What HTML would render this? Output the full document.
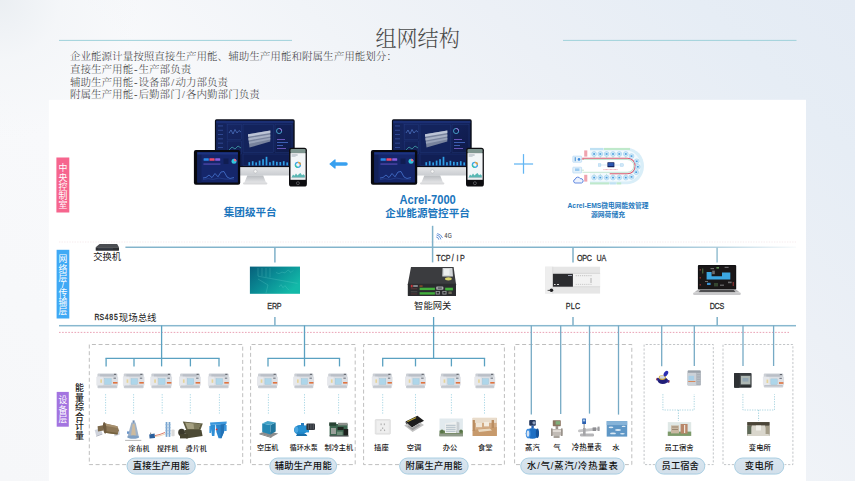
<!DOCTYPE html>
<html lang="zh"><head><meta charset="utf-8"><title>组网结构</title>
<style>
html,body{margin:0;padding:0;}
body{width:855px;height:481px;overflow:hidden;background:radial-gradient(circle at 0 0,rgba(234,238,242,0.95) 0,rgba(240,243,246,0.5) 60px,rgba(246,248,250,0) 140px),linear-gradient(45deg,#f6f7f9 0%,#f8f9fb 30%,#f8f9fb 42%,#f1f4f8 58%,#ecf0f6 72%,#e6edf5 88%,#e4ebf4 100%);}
svg{display:block;position:absolute;left:0;top:0;}
</style></head><body>
<svg width="855" height="481" viewBox="0 0 855 481">
<line x1="59" y1="40.4" x2="292" y2="40.4" stroke="#9fd2da" stroke-width="1"/>
<line x1="563" y1="40.4" x2="796.5" y2="40.4" stroke="#9fd2da" stroke-width="1"/>
<text x="417.6" y="46.0" font-size="21.1" fill="#4a4a4a" font-weight="300" font-family='"Liberation Serif","Noto Serif CJK SC",serif' text-anchor="middle" >组网结构</text>
<text x="69.90 80.45 91.00 101.55 112.10 122.65 133.20 143.75 154.30 164.85 175.40 185.95 196.50 207.05 217.60 228.15 238.70 249.25 259.80 270.35 280.90 291.45 302.00 312.55 323.10 333.65 344.20 354.75 365.30 375.85 386.40" y="60.1" font-size="10.55" fill="#3e3e3e" font-weight="300" font-family='"Liberation Serif","Noto Serif CJK SC",serif'>企业能源计量按照直接生产用能、辅助生产用能和附属生产用能划分：</text>
<text x="69.90 80.45 91.00 101.55 112.10 122.65 134.10 138.47 149.03 159.58 170.13 180.68" y="72.9" font-size="10.55" fill="#3e3e3e" font-weight="300" font-family='"Liberation Serif","Noto Serif CJK SC",serif'>直接生产用能-生产部负责</text>
<text x="69.90 80.45 91.00 101.55 112.10 122.65 134.10 138.47 149.03 159.58 171.33 175.40 185.95 196.50 207.05 217.60" y="85.6" font-size="10.55" fill="#3e3e3e" font-weight="300" font-family='"Liberation Serif","Noto Serif CJK SC",serif'>辅助生产用能-设备部/动力部负责</text>
<text x="69.90 80.45 91.00 101.55 112.10 122.65 134.10 138.47 149.03 159.58 170.13 181.88 185.95 196.50 207.05 217.60 228.15 238.70 249.25" y="98.1" font-size="10.55" fill="#3e3e3e" font-weight="300" font-family='"Liberation Serif","Noto Serif CJK SC",serif'>附属生产用能-后勤部门/各内勤部门负责</text>
<rect x="48.8" y="99.8" width="757.2" height="382" fill="#fff"/>
<rect x="56.4" y="157.5" width="12.9" height="55" fill="#f6658e"/>
<text x="62.9 62.9 62.9 62.9 62.9" y="171.27 180.67 189.67 199.07 208.47" font-size="8.9" fill="#fff" font-weight="400" font-family='"Liberation Sans","Noto Sans CJK SC",sans-serif' text-anchor="middle">中央控制室</text>
<rect x="56.6" y="249.8" width="12.7" height="68.7" fill="#3fa9f5"/>
<text x="62.9 62.9 62.9 62.9 62.9 62.9 62.9" y="261.64 271.64 281.04 288.30 295.74 304.64 314.04" font-size="8.8" fill="#fff" font-weight="400" font-family='"Liberation Sans","Noto Sans CJK SC",sans-serif' text-anchor="middle">网络层/传输层</text>
<rect x="56.7" y="391.9" width="12.1" height="34.8" fill="#a374e0"/>
<text x="62.8 62.8 62.8" y="403.14 412.54 422.04" font-size="8.8" fill="#fff" font-weight="400" font-family='"Liberation Sans","Noto Sans CJK SC",sans-serif' text-anchor="middle">设备层</text>
<text x="79.5 79.5 79.5 79.5 79.5 79.5" y="390.91 400.50 410.31 419.71 429.31 438.91" font-size="9.0" fill="#1a1a1a" font-weight="500" font-family='"Liberation Sans","Noto Sans CJK SC",sans-serif' text-anchor="middle">能量综合计量</text>
<line x1="59" y1="242" x2="796" y2="242" stroke="#f4e6e9" stroke-width="0.8" stroke-dasharray="1.3 1.3"/>
<defs><linearGradient id="fade" x1="0" x2="1" y1="0" y2="0"><stop offset="0" stop-color="#7db0c9"/><stop offset="0.7" stop-color="#7db0c9"/><stop offset="0.88" stop-color="#7db0c9" stop-opacity="0.6"/><stop offset="1" stop-color="#7db0c9" stop-opacity="0.05"/></linearGradient></defs>
<rect x="125.4" y="246.55" width="670.6" height="1.4" fill="url(#fade)"/>
<rect x="59" y="324.95" width="737" height="1.5" fill="#88b8cf"/>
<line x1="59" y1="332.4" x2="789" y2="332.4" stroke="#e58aa2" stroke-width="0.8" stroke-dasharray="1.6 1.5"/>
<line x1="274.9" y1="247.4" x2="274.9" y2="262.4" stroke="#7fb1c9" stroke-width="1.5"/>
<line x1="274.9" y1="317" x2="274.9" y2="325.5" stroke="#7fb1c9" stroke-width="1.5"/>
<line x1="432.6" y1="225.8" x2="432.6" y2="262.4" stroke="#7fb1c9" stroke-width="1.5"/>
<line x1="573.0" y1="247.4" x2="573.0" y2="262.6" stroke="#7fb1c9" stroke-width="1.5"/>
<line x1="573.0" y1="317" x2="573.0" y2="325.5" stroke="#7fb1c9" stroke-width="1.5"/>
<line x1="717.1" y1="247.4" x2="717.1" y2="262.6" stroke="#9cc3d4" stroke-width="1.6"/>
<line x1="717.2" y1="317" x2="717.2" y2="325.5" stroke="#7fb1c9" stroke-width="1.5"/>
<text x="107.2" y="260.0" font-size="9.3" fill="#1c1c1c" font-weight="400" font-family='"Liberation Sans","Noto Sans CJK SC",sans-serif' text-anchor="middle" >交换机</text>
<text transform="scale(0.76,1)" x="127.72 133.96 140.20 146.43 152.67" y="320.5" font-size="9.0" fill="#1c1c1c" stroke="#1c1c1c" stroke-width="0.28" font-weight="400" font-family='"Liberation Sans","Noto Sans CJK SC",sans-serif' text-anchor="middle" xml:space="preserve">RS485</text>
<text x="118.8" y="321.0" font-size="9.45" fill="#1c1c1c" font-weight="400" font-family='"Liberation Sans","Noto Sans CJK SC",sans-serif' text-anchor="start" >现场总线</text>
<text transform="scale(0.74,1)" x="364.45 370.91 377.36" y="309.0" font-size="9.7" fill="#2e2e2e" stroke="#2e2e2e" stroke-width="0.28" font-weight="400" font-family='"Liberation Sans","Noto Sans CJK SC",sans-serif' text-anchor="middle" xml:space="preserve">ERP</text>
<text x="432.7" y="309.4" font-size="9.3" fill="#1c1c1c" font-weight="400" font-family='"Liberation Sans","Noto Sans CJK SC",sans-serif' text-anchor="middle" >智能网关</text>
<text transform="scale(0.74,1)" x="767.69 774.15 780.61" y="309.0" font-size="9.7" fill="#2e2e2e" stroke="#2e2e2e" stroke-width="0.28" font-weight="400" font-family='"Liberation Sans","Noto Sans CJK SC",sans-serif' text-anchor="middle" xml:space="preserve">PLC</text>
<text transform="scale(0.74,1)" x="962.69 969.15 975.61" y="309.0" font-size="9.7" fill="#2e2e2e" stroke="#2e2e2e" stroke-width="0.28" font-weight="400" font-family='"Liberation Sans","Noto Sans CJK SC",sans-serif' text-anchor="middle" xml:space="preserve">DCS</text>
<text transform="scale(0.74,1)" x="592.55 599.01 605.47 611.93 618.39 624.85" y="260.6" font-size="9.7" fill="#2e2e2e" stroke="#2e2e2e" stroke-width="0.28" font-weight="400" font-family='"Liberation Sans","Noto Sans CJK SC",sans-serif' text-anchor="middle" xml:space="preserve">TCP/IP</text>
<text transform="scale(0.74,1)" x="783.64 790.09 796.55 803.01 809.47 815.93" y="260.6" font-size="9.7" fill="#2e2e2e" stroke="#2e2e2e" stroke-width="0.28" font-weight="400" font-family='"Liberation Sans","Noto Sans CJK SC",sans-serif' text-anchor="middle" xml:space="preserve">OPC UA</text>
<text transform="scale(0.78,1)" x="571.73 576.73" y="238.5" font-size="6.6" fill="#4a4a4a" stroke="#4a4a4a" stroke-width="0.15" font-weight="400" font-family='"Liberation Sans","Noto Sans CJK SC",sans-serif' text-anchor="middle" xml:space="preserve">4G</text>
<text x="250.2" y="215.6" font-size="10.6" fill="#1b76bd" font-weight="700" font-family='"Liberation Sans","Noto Sans CJK SC",sans-serif' text-anchor="middle" >集团级平台</text>
<text x="427.6" y="204.4" font-size="11.9" fill="#1b76bd" font-weight="700" font-family='"Liberation Sans","Noto Sans CJK SC",sans-serif' text-anchor="middle" textLength="56.4" lengthAdjust="spacingAndGlyphs">Acrel-7000</text>
<text x="427.5" y="217.2" font-size="10.6" fill="#1b76bd" font-weight="700" font-family='"Liberation Sans","Noto Sans CJK SC",sans-serif' text-anchor="middle" >企业能源管控平台</text>
<text x="608" y="208.4" font-size="6.7" fill="#2478bd" font-weight="700" font-family='"Liberation Sans","Noto Sans CJK SC",sans-serif' text-anchor="middle" textLength="81" lengthAdjust="spacingAndGlyphs">Acrel-EMS微电网能效管理</text>
<text x="608" y="216.5" font-size="6.8" fill="#2478bd" font-weight="700" font-family='"Liberation Sans","Noto Sans CJK SC",sans-serif' text-anchor="middle" >源网荷储充</text>
<defs>
<linearGradient id="scr" x1="0" y1="0" x2="1" y2="1"><stop offset="0" stop-color="#172867"/><stop offset="1" stop-color="#0d1845"/></linearGradient>
<linearGradient id="chin" x1="0" y1="0" x2="0" y2="1"><stop offset="0" stop-color="#e4e5e7"/><stop offset="1" stop-color="#c9ccd0"/></linearGradient>
<linearGradient id="stand" x1="0" y1="0" x2="0" y2="1"><stop offset="0" stop-color="#b9bcc0"/><stop offset="1" stop-color="#e6e7e9"/></linearGradient>
<linearGradient id="erp" x1="0" y1="0" x2="1" y2="0.6"><stop offset="0" stop-color="#07607b"/><stop offset="0.5" stop-color="#0a8c95"/><stop offset="1" stop-color="#13b9a8"/></linearGradient>
<linearGradient id="mbody" x1="0" y1="0" x2="0" y2="1"><stop offset="0" stop-color="#d3d6db"/><stop offset="0.5" stop-color="#e4e6ea"/><stop offset="1" stop-color="#cfd2d7"/></linearGradient>
<linearGradient id="pill" x1="0" y1="0" x2="0" y2="1"><stop offset="0" stop-color="#d9e6f0"/><stop offset="1" stop-color="#d2dfea"/></linearGradient>
</defs>
<g transform="translate(0,0)">
<rect x="214.9" y="119.3" width="79.8" height="48.2" rx="1.6" fill="#0a0d18"/>
<rect x="216.3" y="120.8" width="77" height="45.2" fill="url(#scr)"/>
<rect x="216.3" y="120.8" width="9.5" height="45.2" fill="#14245c"/>
<rect x="216.3" y="120.8" width="77" height="2.4" fill="#1b2f74"/>
<rect x="218" y="125.5" width="5" height="0.9" fill="#3b55a6" opacity="0.8"/>
<rect x="218" y="129.8" width="5" height="0.9" fill="#3b55a6" opacity="0.8"/>
<rect x="218" y="134.1" width="5" height="0.9" fill="#3b55a6" opacity="0.8"/>
<rect x="218" y="138.4" width="5" height="0.9" fill="#3b55a6" opacity="0.8"/>
<rect x="218" y="142.7" width="5" height="0.9" fill="#3b55a6" opacity="0.8"/>
<rect x="218" y="147.0" width="5" height="0.9" fill="#3b55a6" opacity="0.8"/>
<rect x="218" y="151.3" width="5" height="0.9" fill="#3b55a6" opacity="0.8"/>
<rect x="218" y="155.6" width="5" height="0.9" fill="#3b55a6" opacity="0.8"/>
<rect x="218" y="159.9" width="5" height="0.9" fill="#3b55a6" opacity="0.8"/>
<rect x="227.5" y="124.6" width="14" height="15" fill="none" stroke="#243c80" stroke-width="0.4"/>
<rect x="227.5" y="141" width="14" height="13" fill="none" stroke="#243c80" stroke-width="0.4"/>
<rect x="243" y="124.6" width="30.5" height="28" fill="#13235c" stroke="#243c80" stroke-width="0.4"/>
<rect x="275" y="124.6" width="17" height="28" fill="none" stroke="#243c80" stroke-width="0.4"/>
<rect x="243" y="154" width="49" height="11.6" fill="#111f55" stroke="#243c80" stroke-width="0.4"/>
<polyline points="229,133 231,130 233,134 235,129.5 237,133 239,130.5 241,132" fill="none" stroke="#5b86d8" stroke-width="0.6"/>
<polyline points="229,150 232,147 235,149 238,146 241,148" fill="none" stroke="#4fc6c0" stroke-width="0.6"/>
<polygon points="248,134.2 270.3,130.6 270.3,141.5 249.5,147.5" fill="#78839d"/>
<polygon points="248,134.2 270.3,130.6 270.3,133 248,136.8" fill="#bcc4d6"/>
<polygon points="248.3,138.2 270.3,134.4 270.3,136.4 248.6,140.4" fill="#a9b2c6"/>
<polygon points="248.8,141.8 270.3,137.8 270.3,139.6 249,143.8" fill="#99a3b9"/>
<circle cx="279.1" cy="131" r="2.6" fill="none" stroke="#4fb8dc" stroke-width="0.8"/>
<path d="M279.1 128.4 A2.6 2.6 0 0 1 281.7 131" fill="none" stroke="#a565d8" stroke-width="0.8"/>
<rect x="277" y="139" width="8" height="0.8" fill="#8a6be0" opacity="0.9"/>
<rect x="277" y="142" width="11" height="0.8" fill="#4f78d8" opacity="0.9"/>
<rect x="277" y="145" width="6" height="0.8" fill="#4f78d8" opacity="0.9"/>
<rect x="277" y="148" width="9" height="0.8" fill="#8a6be0" opacity="0.9"/>
<rect x="248.4" y="162.20000000000002" width="1.7" height="3.2" fill="#2f9fe6"/>
<rect x="251.85" y="161.20000000000002" width="1.7" height="4.2" fill="#2f9fe6"/>
<rect x="255.3" y="162.4" width="1.7" height="3.0" fill="#2f9fe6"/>
<rect x="258.75" y="160.6" width="1.7" height="4.8" fill="#2f9fe6"/>
<rect x="262.2" y="159.20000000000002" width="1.7" height="6.2" fill="#2f9fe6"/>
<rect x="265.65" y="156.8" width="1.7" height="8.6" fill="#2f9fe6"/>
<rect x="269.1" y="162.20000000000002" width="1.7" height="3.2" fill="#2f9fe6"/>
<rect x="272.55" y="160.8" width="1.7" height="4.6" fill="#2f9fe6"/>
<rect x="276.0" y="161.8" width="1.7" height="3.6" fill="#2f9fe6"/>
<rect x="279.45" y="162.0" width="1.7" height="3.4" fill="#2f9fe6"/>
<rect x="282.9" y="161.20000000000002" width="1.7" height="4.2" fill="#2f9fe6"/>
<rect x="286.35" y="162.4" width="1.7" height="3.0" fill="#2f9fe6"/>
<path d="M214.9 167.2 h79.8 v6.8 a1.6 1.6 0 0 1 -1.6 1.6 h-76.6 a1.6 1.6 0 0 1 -1.6 -1.6 z" fill="url(#chin)"/>
<circle cx="255.4" cy="171.4" r="1.7" fill="#f6f6f6" stroke="#aeb1b5" stroke-width="0.5"/>
<polygon points="247.3,175.6 263.2,175.6 266.2,183 244.2,183" fill="url(#stand)"/>
<rect x="243" y="182.6" width="24.4" height="1.8" rx="0.8" fill="#d9dadc"/>
<rect x="193.9" y="150.1" width="46.3" height="34.6" rx="2" fill="#08090f"/>
<rect x="197.3" y="152.3" width="40.6" height="30.2" fill="#15266a"/>
<rect x="197.3" y="152.3" width="4.2" height="30.2" fill="#12215a"/>
<rect x="197.3" y="152.3" width="40.6" height="2.2" fill="#1c3380"/>
<rect x="203.6" y="158.2" width="5.2" height="2.5" rx="0.5" fill="#2c8be8"/>
<rect x="209.4" y="158.2" width="5.2" height="2.5" rx="0.5" fill="#ee4a6c"/>
<rect x="215.2" y="158.2" width="5" height="2.5" rx="0.5" fill="#8b5ee0"/>
<rect x="203.4" y="163.6" width="17" height="0.9" fill="#6b56c8"/>
<rect x="223.5" y="158.5" width="5" height="5.5" fill="#101d52"/>
<circle cx="234" cy="161.2" r="2.5" fill="#31c6dc"/>
<path d="M234 158.7 A2.5 2.5 0 0 1 236.5 161.2 L234 161.2 z" fill="#e86a8a"/>
<polyline points="203,178 206,177.5 209,175 212,177.6 215,173.5 218,176.8 221,172 224,171.5 227,177 230,178.5 234,177.5" fill="none" stroke="#4d7fe0" stroke-width="0.7"/>
<polyline points="203,179.6 208,178.6 213,179.4 219,178 225,179 234,179.2" fill="none" stroke="#2f4f9f" stroke-width="0.5"/>
<rect x="289" y="147.7" width="17.9" height="38.8" rx="2.6" fill="#0d0d10"/>
<rect x="290.5" y="148.9" width="15.1" height="4.4" rx="1.2" fill="#7f9690"/>
<rect x="290.5" y="153.1" width="15.1" height="26.7" fill="#f3f6f8"/>
<rect x="291.6" y="154.6" width="6" height="0.8" fill="#8c98a4"/><rect x="291.6" y="156.2" width="4" height="0.6" fill="#b5bec6"/>
<circle cx="297.9" cy="164.8" r="2.5" fill="none" stroke="#3aa3e8" stroke-width="1.3"/>
<path d="M297.9 162.3 A2.5 2.5 0 0 1 300.4 164.8" fill="none" stroke="#f0a23a" stroke-width="1.3"/>
<path d="M295.4 164.8 A2.5 2.5 0 0 0 297.9 167.3" fill="none" stroke="#3ec7a0" stroke-width="1.3"/>
<polygon points="291.5,177.6 293,174.6 294.5,175.8 296,173.6 297.5,175.4 299,174 300.5,173 302,175.2 303.5,174.2 304.8,175.5 304.8,177.6" fill="#59b7b3"/>
<rect x="291.5" y="177.6" width="13.3" height="0.5" fill="#9aa5ad"/>
<circle cx="297.9" cy="183.2" r="1.5" fill="none" stroke="#8b8b8f" stroke-width="0.5"/>
</g>
<g transform="translate(177,0)">
<rect x="214.9" y="119.3" width="79.8" height="48.2" rx="1.6" fill="#0a0d18"/>
<rect x="216.3" y="120.8" width="77" height="45.2" fill="url(#scr)"/>
<rect x="216.3" y="120.8" width="9.5" height="45.2" fill="#14245c"/>
<rect x="216.3" y="120.8" width="77" height="2.4" fill="#1b2f74"/>
<rect x="218" y="125.5" width="5" height="0.9" fill="#3b55a6" opacity="0.8"/>
<rect x="218" y="129.8" width="5" height="0.9" fill="#3b55a6" opacity="0.8"/>
<rect x="218" y="134.1" width="5" height="0.9" fill="#3b55a6" opacity="0.8"/>
<rect x="218" y="138.4" width="5" height="0.9" fill="#3b55a6" opacity="0.8"/>
<rect x="218" y="142.7" width="5" height="0.9" fill="#3b55a6" opacity="0.8"/>
<rect x="218" y="147.0" width="5" height="0.9" fill="#3b55a6" opacity="0.8"/>
<rect x="218" y="151.3" width="5" height="0.9" fill="#3b55a6" opacity="0.8"/>
<rect x="218" y="155.6" width="5" height="0.9" fill="#3b55a6" opacity="0.8"/>
<rect x="218" y="159.9" width="5" height="0.9" fill="#3b55a6" opacity="0.8"/>
<rect x="227.5" y="124.6" width="14" height="15" fill="none" stroke="#243c80" stroke-width="0.4"/>
<rect x="227.5" y="141" width="14" height="13" fill="none" stroke="#243c80" stroke-width="0.4"/>
<rect x="243" y="124.6" width="30.5" height="28" fill="#13235c" stroke="#243c80" stroke-width="0.4"/>
<rect x="275" y="124.6" width="17" height="28" fill="none" stroke="#243c80" stroke-width="0.4"/>
<rect x="243" y="154" width="49" height="11.6" fill="#111f55" stroke="#243c80" stroke-width="0.4"/>
<polyline points="229,133 231,130 233,134 235,129.5 237,133 239,130.5 241,132" fill="none" stroke="#5b86d8" stroke-width="0.6"/>
<polyline points="229,150 232,147 235,149 238,146 241,148" fill="none" stroke="#4fc6c0" stroke-width="0.6"/>
<polygon points="248,134.2 270.3,130.6 270.3,141.5 249.5,147.5" fill="#78839d"/>
<polygon points="248,134.2 270.3,130.6 270.3,133 248,136.8" fill="#bcc4d6"/>
<polygon points="248.3,138.2 270.3,134.4 270.3,136.4 248.6,140.4" fill="#a9b2c6"/>
<polygon points="248.8,141.8 270.3,137.8 270.3,139.6 249,143.8" fill="#99a3b9"/>
<circle cx="279.1" cy="131" r="2.6" fill="none" stroke="#4fb8dc" stroke-width="0.8"/>
<path d="M279.1 128.4 A2.6 2.6 0 0 1 281.7 131" fill="none" stroke="#a565d8" stroke-width="0.8"/>
<rect x="277" y="139" width="8" height="0.8" fill="#8a6be0" opacity="0.9"/>
<rect x="277" y="142" width="11" height="0.8" fill="#4f78d8" opacity="0.9"/>
<rect x="277" y="145" width="6" height="0.8" fill="#4f78d8" opacity="0.9"/>
<rect x="277" y="148" width="9" height="0.8" fill="#8a6be0" opacity="0.9"/>
<rect x="248.4" y="162.20000000000002" width="1.7" height="3.2" fill="#2f9fe6"/>
<rect x="251.85" y="161.20000000000002" width="1.7" height="4.2" fill="#2f9fe6"/>
<rect x="255.3" y="162.4" width="1.7" height="3.0" fill="#2f9fe6"/>
<rect x="258.75" y="160.6" width="1.7" height="4.8" fill="#2f9fe6"/>
<rect x="262.2" y="159.20000000000002" width="1.7" height="6.2" fill="#2f9fe6"/>
<rect x="265.65" y="156.8" width="1.7" height="8.6" fill="#2f9fe6"/>
<rect x="269.1" y="162.20000000000002" width="1.7" height="3.2" fill="#2f9fe6"/>
<rect x="272.55" y="160.8" width="1.7" height="4.6" fill="#2f9fe6"/>
<rect x="276.0" y="161.8" width="1.7" height="3.6" fill="#2f9fe6"/>
<rect x="279.45" y="162.0" width="1.7" height="3.4" fill="#2f9fe6"/>
<rect x="282.9" y="161.20000000000002" width="1.7" height="4.2" fill="#2f9fe6"/>
<rect x="286.35" y="162.4" width="1.7" height="3.0" fill="#2f9fe6"/>
<path d="M214.9 167.2 h79.8 v6.8 a1.6 1.6 0 0 1 -1.6 1.6 h-76.6 a1.6 1.6 0 0 1 -1.6 -1.6 z" fill="url(#chin)"/>
<circle cx="255.4" cy="171.4" r="1.7" fill="#f6f6f6" stroke="#aeb1b5" stroke-width="0.5"/>
<polygon points="247.3,175.6 263.2,175.6 266.2,183 244.2,183" fill="url(#stand)"/>
<rect x="243" y="182.6" width="24.4" height="1.8" rx="0.8" fill="#d9dadc"/>
<rect x="193.9" y="150.1" width="46.3" height="34.6" rx="2" fill="#08090f"/>
<rect x="197.3" y="152.3" width="40.6" height="30.2" fill="#15266a"/>
<rect x="197.3" y="152.3" width="4.2" height="30.2" fill="#12215a"/>
<rect x="197.3" y="152.3" width="40.6" height="2.2" fill="#1c3380"/>
<rect x="203.6" y="158.2" width="5.2" height="2.5" rx="0.5" fill="#2c8be8"/>
<rect x="209.4" y="158.2" width="5.2" height="2.5" rx="0.5" fill="#ee4a6c"/>
<rect x="215.2" y="158.2" width="5" height="2.5" rx="0.5" fill="#8b5ee0"/>
<rect x="203.4" y="163.6" width="17" height="0.9" fill="#6b56c8"/>
<rect x="223.5" y="158.5" width="5" height="5.5" fill="#101d52"/>
<circle cx="234" cy="161.2" r="2.5" fill="#31c6dc"/>
<path d="M234 158.7 A2.5 2.5 0 0 1 236.5 161.2 L234 161.2 z" fill="#e86a8a"/>
<polyline points="203,178 206,177.5 209,175 212,177.6 215,173.5 218,176.8 221,172 224,171.5 227,177 230,178.5 234,177.5" fill="none" stroke="#4d7fe0" stroke-width="0.7"/>
<polyline points="203,179.6 208,178.6 213,179.4 219,178 225,179 234,179.2" fill="none" stroke="#2f4f9f" stroke-width="0.5"/>
<rect x="289" y="147.7" width="17.9" height="38.8" rx="2.6" fill="#0d0d10"/>
<rect x="290.5" y="148.9" width="15.1" height="4.4" rx="1.2" fill="#7f9690"/>
<rect x="290.5" y="153.1" width="15.1" height="26.7" fill="#f3f6f8"/>
<rect x="291.6" y="154.6" width="6" height="0.8" fill="#8c98a4"/><rect x="291.6" y="156.2" width="4" height="0.6" fill="#b5bec6"/>
<circle cx="297.9" cy="164.8" r="2.5" fill="none" stroke="#3aa3e8" stroke-width="1.3"/>
<path d="M297.9 162.3 A2.5 2.5 0 0 1 300.4 164.8" fill="none" stroke="#f0a23a" stroke-width="1.3"/>
<path d="M295.4 164.8 A2.5 2.5 0 0 0 297.9 167.3" fill="none" stroke="#3ec7a0" stroke-width="1.3"/>
<polygon points="291.5,177.6 293,174.6 294.5,175.8 296,173.6 297.5,175.4 299,174 300.5,173 302,175.2 303.5,174.2 304.8,175.5 304.8,177.6" fill="#59b7b3"/>
<rect x="291.5" y="177.6" width="13.3" height="0.5" fill="#9aa5ad"/>
<circle cx="297.9" cy="183.2" r="1.5" fill="none" stroke="#8b8b8f" stroke-width="0.5"/>
</g>
<path d="M329.2 163.9 L334.6 159.4 Q335.6 158.8 335.6 160 L335.6 162.2 L346 162.2 A1.75 1.75 0 0 1 346 165.7 L335.6 165.7 L335.6 167.9 Q335.6 169 334.6 168.5 Z" fill="#38a0ef"/>
<line x1="514" y1="164" x2="533.1" y2="164" stroke="#63b6f3" stroke-width="1.25"/>
<line x1="523.5" y1="154.1" x2="523.5" y2="173.7" stroke="#63b6f3" stroke-width="1.25"/>
<path d="M590 148 H627.5 A16.5 18.1 0 0 1 627.5 184.2 H590 Z" fill="#d9eef8"/>
<path d="M590 150.6 H626.5 A14 15.4 0 0 1 626.5 181.6 H590 Z" fill="#f2f9fd"/>
<rect x="590" y="147.9" width="13" height="2.1" fill="#bfe1f3"/>
<rect x="604" y="147.9" width="26" height="2.1" fill="#bfe9cb"/>
<rect x="590" y="182.4" width="19.2" height="2" fill="#bfe9cb"/>
<rect x="609.9" y="182.4" width="6" height="2" fill="#bfe1f3"/>
<rect x="616.6" y="182.4" width="4.6" height="2" fill="#bfe9cb"/>
<path d="M582 160.2 H627.4 A5.8 5.8 0 0 1 627.4 171.8 H582 Z" fill="#ffffff"/>
<path d="M582.5 159.5 H627.4 A6.5 6.4 0 0 1 627.4 172.3 H582.5" fill="none" stroke="#a5d8b4" stroke-width="0.6"/>
<path d="M582.2 158.2 H627.4 A7.8 7.8 0 0 1 627.4 173.8 H609.7" fill="none" stroke="#db5a70" stroke-width="1.1"/>
<rect x="584.2" y="150.4" width="3.1" height="6.2" fill="#efa3ae"/>
<rect x="584.2" y="174.8" width="3.1" height="6.8" fill="#efa3ae"/>
<circle cx="594.1" cy="154" r="2.4" fill="#d4ebf9" stroke="#8cc6ea" stroke-width="0.5"/><rect x="593.2" y="153.2" width="1.8" height="1.6" fill="#4a9ddc"/>
<circle cx="594.1" cy="177.6" r="2.4" fill="#d4ebf9" stroke="#8cc6ea" stroke-width="0.5"/><rect x="593.2" y="176.8" width="1.8" height="1.6" fill="#4a9ddc"/>
<line x1="594.1" y1="156.4" x2="594.1" y2="158.2" stroke="#9fd3ae" stroke-width="0.5"/>
<line x1="594.1" y1="173.8" x2="594.1" y2="175.2" stroke="#9fd3ae" stroke-width="0.5"/>
<circle cx="600.3" cy="154" r="2.4" fill="#d4ebf9" stroke="#8cc6ea" stroke-width="0.5"/><rect x="599.4" y="153.2" width="1.8" height="1.6" fill="#4a9ddc"/>
<circle cx="600.3" cy="177.6" r="2.4" fill="#d4ebf9" stroke="#8cc6ea" stroke-width="0.5"/><rect x="599.4" y="176.8" width="1.8" height="1.6" fill="#4a9ddc"/>
<line x1="600.3" y1="156.4" x2="600.3" y2="158.2" stroke="#9fd3ae" stroke-width="0.5"/>
<line x1="600.3" y1="173.8" x2="600.3" y2="175.2" stroke="#9fd3ae" stroke-width="0.5"/>
<circle cx="606.6" cy="154" r="2.4" fill="#d4ebf9" stroke="#8cc6ea" stroke-width="0.5"/><rect x="605.7" y="153.2" width="1.8" height="1.6" fill="#4a9ddc"/>
<circle cx="606.6" cy="177.6" r="2.4" fill="#d4ebf9" stroke="#8cc6ea" stroke-width="0.5"/><rect x="605.7" y="176.8" width="1.8" height="1.6" fill="#4a9ddc"/>
<line x1="606.6" y1="156.4" x2="606.6" y2="158.2" stroke="#9fd3ae" stroke-width="0.5"/>
<line x1="606.6" y1="173.8" x2="606.6" y2="175.2" stroke="#9fd3ae" stroke-width="0.5"/>
<circle cx="613" cy="154" r="2.4" fill="#d4ebf9" stroke="#8cc6ea" stroke-width="0.5"/><rect x="612.1" y="153.2" width="1.8" height="1.6" fill="#4a9ddc"/>
<circle cx="613" cy="177.6" r="2.4" fill="#d4ebf9" stroke="#8cc6ea" stroke-width="0.5"/><rect x="612.1" y="176.8" width="1.8" height="1.6" fill="#4a9ddc"/>
<line x1="613" y1="156.4" x2="613" y2="158.2" stroke="#9fd3ae" stroke-width="0.5"/>
<line x1="613" y1="173.8" x2="613" y2="175.2" stroke="#9fd3ae" stroke-width="0.5"/>
<circle cx="619.3" cy="154" r="2.4" fill="#d4ebf9" stroke="#8cc6ea" stroke-width="0.5"/><rect x="618.4" y="153.2" width="1.8" height="1.6" fill="#4a9ddc"/>
<circle cx="619.3" cy="177.6" r="2.4" fill="#d4ebf9" stroke="#8cc6ea" stroke-width="0.5"/><rect x="618.4" y="176.8" width="1.8" height="1.6" fill="#4a9ddc"/>
<line x1="619.3" y1="156.4" x2="619.3" y2="158.2" stroke="#9fd3ae" stroke-width="0.5"/>
<line x1="619.3" y1="173.8" x2="619.3" y2="175.2" stroke="#9fd3ae" stroke-width="0.5"/>
<circle cx="625.8" cy="154" r="2.4" fill="#d4ebf9" stroke="#8cc6ea" stroke-width="0.5"/><rect x="624.9" y="153.2" width="1.8" height="1.6" fill="#4a9ddc"/>
<circle cx="625.8" cy="177.6" r="2.4" fill="#d4ebf9" stroke="#8cc6ea" stroke-width="0.5"/><rect x="624.9" y="176.8" width="1.8" height="1.6" fill="#4a9ddc"/>
<line x1="625.8" y1="156.4" x2="625.8" y2="158.2" stroke="#9fd3ae" stroke-width="0.5"/>
<line x1="625.8" y1="173.8" x2="625.8" y2="175.2" stroke="#9fd3ae" stroke-width="0.5"/>
<circle cx="631.5" cy="156.1" r="2.4" fill="#d4ebf9" stroke="#8cc6ea" stroke-width="0.5"/><rect x="630.6" y="155.29999999999998" width="1.8" height="1.6" fill="#4a9ddc"/>
<circle cx="636.7" cy="161.3" r="2.4" fill="#d4ebf9" stroke="#8cc6ea" stroke-width="0.5"/><rect x="635.8000000000001" y="160.5" width="1.8" height="1.6" fill="#4a9ddc"/>
<circle cx="637.8" cy="166.8" r="2.4" fill="#d4ebf9" stroke="#8cc6ea" stroke-width="0.5"/><rect x="636.9" y="166.0" width="1.8" height="1.6" fill="#4a9ddc"/>
<circle cx="636.2" cy="172.2" r="2.4" fill="#d4ebf9" stroke="#8cc6ea" stroke-width="0.5"/><rect x="635.3000000000001" y="171.39999999999998" width="1.8" height="1.6" fill="#4a9ddc"/>
<circle cx="631.5" cy="176.9" r="2.4" fill="#d4ebf9" stroke="#8cc6ea" stroke-width="0.5"/><rect x="630.6" y="176.1" width="1.8" height="1.6" fill="#4a9ddc"/>
<rect x="607.4" y="162.3" width="7" height="4.9" rx="0.4" fill="#14245e"/>
<rect x="608.2" y="163" width="5.4" height="3" fill="#2b56b0"/>
<rect x="598.5" y="163.8" width="2.4" height="2.4" fill="#cfe6f7" stroke="#8cc6ea" stroke-width="0.4"/>
<rect x="620.8" y="163.8" width="2.4" height="2.4" fill="#cfe6f7" stroke="#8cc6ea" stroke-width="0.4"/>
<line x1="601" y1="165" x2="607.4" y2="165" stroke="#9ccbe8" stroke-width="0.4"/><line x1="614.4" y1="165" x2="620.8" y2="165" stroke="#9ccbe8" stroke-width="0.4"/>
<line x1="603.5" y1="169.6" x2="618" y2="169.6" stroke="#e8788a" stroke-width="0.7" stroke-dasharray="0.8 0.5"/>
<rect x="572.8" y="156.1" width="8.8" height="6.2" rx="0.6" fill="#e3f1fb" stroke="#a3cdee" stroke-width="0.5"/>
<rect x="574.6" y="157.2" width="1.4" height="4" fill="#6aa8e0"/><circle cx="579" cy="159.4" r="1.3" fill="#3f8bdc"/>
<rect x="572.8" y="167.2" width="8.8" height="5.8" rx="0.6" fill="#e3f1fb" stroke="#a3cdee" stroke-width="0.5"/>
<rect x="575" y="168.4" width="4.4" height="2.6" fill="#9ccbf0"/>
<path d="M575 183 a1.9 1.9 0 0 1 0.2 -3.7 a2.7 2.7 0 0 1 5.1 -0.6 a2.1 2.1 0 0 1 1.2 4.3 z" fill="#eef3fd" stroke="#3f6fd8" stroke-width="0.8"/>
<line x1="581.6" y1="159.2" x2="584" y2="159.2" stroke="#db5a70" stroke-width="0.6"/>
<line x1="581.6" y1="170.2" x2="584" y2="170.2" stroke="#a5d8b4" stroke-width="0.6"/>
<g fill="none" stroke="#4f84d3" stroke-width="0.85" stroke-linecap="round"><path d="M436.6 237.0 A2.6 2.6 0 0 1 438.8 239.3"/><path d="M436.9 235.0 A4.6 4.6 0 0 1 440.8 239.0"/><path d="M437.6 233.6 A6.4 6.4 0 0 1 442.4 237.6"/></g>
<polygon points="99.6,244 117.1,244 119,247.3 95.7,247.3" fill="#4b4d52"/>
<rect x="95.7" y="247.2" width="23.3" height="3.5" rx="0.4" fill="#2d2f33"/>
<rect x="98" y="248.4" width="15" height="0.9" fill="#3e4452"/>
<rect x="249.9" y="266.6" width="50.1" height="27.2" fill="url(#erp)"/>
<g stroke="#7fe0d8" stroke-opacity="0.35" fill="none" stroke-width="0.6"><path d="M258 276.2 L297.5 283.4"/><path d="M258 279 L268 285 L266 293"/><path d="M276 272.5 l3 1.2 l3 -1.6 l3 0.8 l3 -3 l3 2.6 l2 -2"/><path d="M279 287 l2 -2.4 l2 3 l2 -2 l2 2.6 l2 2"/><path d="M258 268 V276 M262 268 V276 M266 268 V277 M270 268 V277.5"/></g>
<polygon points="411,267.1 453.6,267.1 456,283.9 407.8,283.9" fill="#3b3c3f"/>
<rect x="407.8" y="283.7" width="48.2" height="12.3" rx="0.6" fill="#2b2c2f"/>
<polygon points="442.6,268 452.4,268 453,276.6 442.3,276.6" fill="#d4d7d9"/>
<polygon points="444,269 449.5,269 449.5,275 444,275" fill="#eceeee"/>
<ellipse cx="448.4" cy="278.8" rx="3.4" ry="1.6" fill="#d6d26c"/>
<rect x="410.8" y="284.8" width="1.8" height="2.6" fill="#c8353a"/><rect x="413.2" y="285.2" width="4.6" height="1.6" fill="#9a9c9f"/>
<rect x="419.4" y="285.6" width="3.2" height="0.9" fill="#c8602a"/>
<rect x="410.8" y="288.4" width="6.5" height="0.8" fill="#6a3a3a"/><rect x="410.8" y="291.4" width="6.5" height="0.8" fill="#555"/><rect x="410.8" y="293.6" width="6.5" height="0.7" fill="#6a3a3a"/>
<rect x="419.6" y="287.7" width="15.3" height="2.4" fill="#43b03c"/><rect x="419.6" y="292.2" width="15.3" height="2.4" fill="#43b03c"/>
<rect x="445.2" y="287.7" width="7.7" height="2.7" fill="#43b03c"/>
<rect x="436.2" y="286.6" width="7.2" height="3.1" rx="0.8" fill="#a9abae"/><rect x="437.8" y="287.4" width="4" height="1.4" fill="#55575b"/>
<rect x="435.7" y="291" width="4.1" height="3.5" fill="#9b9da0"/><rect x="436.6" y="291.8" width="2.3" height="1.8" fill="#26272a"/>
<rect x="442.4" y="291" width="4.1" height="3.5" fill="#9b9da0"/><rect x="443.3" y="291.8" width="2.3" height="1.8" fill="#26272a"/>
<rect x="448.4" y="291.6" width="3.4" height="2.4" rx="0.5" fill="#6e6a58"/>
<rect x="545.2" y="266.7" width="54.9" height="26.9" fill="#e6e6e6"/>
<rect x="545.2" y="266.7" width="7.3" height="26.9" fill="#eeeeee"/>
<rect x="552.5" y="266.7" width="0.7" height="26.9" fill="#d6d6d6"/>
<rect x="553.2" y="273.4" width="46.9" height="13.3" fill="#f2f2f2"/>
<rect x="553.2" y="272.9" width="46.9" height="0.7" fill="#cfcfcf"/><rect x="553.2" y="286.5" width="46.9" height="0.7" fill="#cfcfcf"/>
<rect x="552.9" y="273.8" width="20" height="12.9" fill="#2b2c2f"/>
<rect x="568" y="275" width="4" height="1" fill="#9aa0b0"/><rect x="554" y="284" width="1.6" height="1" fill="#ddd"/><rect x="557" y="284" width="2" height="1" fill="#ddd"/>
<line x1="575.7" y1="275.7" x2="591.7" y2="275.7" stroke="#b5b5b5" stroke-width="0.8" stroke-dasharray="1.2 0.9"/>
<line x1="575.7" y1="284.4" x2="591.7" y2="284.4" stroke="#c2c2c2" stroke-width="0.8" stroke-dasharray="1.2 0.9"/>
<rect x="590.4" y="278" width="1.2" height="5" fill="#bdbdbd"/>
<circle cx="551.4" cy="290.3" r="1.8" fill="#1d1d1f"/><rect x="547.6" y="289.9" width="3" height="0.9" fill="#444"/>
<rect x="697.9" y="265.1" width="38.3" height="24.6" rx="1" fill="#121214"/>
<rect x="699" y="266.2" width="36.1" height="22.4" fill="#1a1718"/>
<path d="M706.6 271.9 H711.6 V276.3 H722 V272.6 H730.3 V279.4 H706.6 Z" fill="#3ca7e2"/>
<rect x="707" y="282.8" width="3.6" height="2.2" fill="#3a8fd0"/>
<g fill="#5f8f55"><rect x="716.4" y="267" width="2.6" height="1.6"/><rect x="714.6" y="283" width="0.8" height="3.4"/><rect x="716.6" y="283" width="0.8" height="3.4"/><rect x="702.4" y="268.5" width="0.8" height="5"/></g>
<g fill="#6d6d6f"><rect x="710.5" y="268" width="3.5" height="1.2"/><rect x="712.2" y="270.6" width="2.6" height="3.6"/><rect x="724.6" y="266.8" width="4" height="1.2"/><rect x="705" y="281" width="3" height="1"/><rect x="728" y="281.6" width="3.6" height="1.6"/><rect x="720" y="284.6" width="4" height="1.2"/></g>
<g fill="#7a2e2e"><rect x="699.6" y="269" width="1.4" height="1.6"/><rect x="699.6" y="277" width="1.4" height="1.6"/><rect x="699.6" y="284" width="1.4" height="1.6"/><rect x="732.6" y="282" width="1.4" height="4"/></g>
<polygon points="697.9,289.6 736.2,289.6 739.8,292.6 694.2,292.6" fill="#b9b9bb"/>
<polygon points="700.4,290 733.8,290 735.6,292.2 698.6,292.2" fill="#4e4e50"/>
<rect x="693.1" y="292.4" width="47.7" height="2.6" rx="1.2" fill="#c9c9cb"/>
<path d="M126.2 464.6 H89.3 V344.5 H242.7 V464.6 H196" fill="none" stroke="#adadad" stroke-width="0.8" stroke-dasharray="4 2.65"/>
<line x1="161.6" y1="325.5" x2="161.6" y2="366.4" stroke="#5aa1c1" stroke-width="1.3"/>
<line x1="105.44999999999999" y1="358.4" x2="219.65" y2="358.4" stroke="#5aa1c1" stroke-width="1.3"/>
<line x1="106.1" y1="358.4" x2="106.1" y2="366.4" stroke="#5aa1c1" stroke-width="1.3"/>
<line x1="134.0" y1="358.4" x2="134.0" y2="366.4" stroke="#5aa1c1" stroke-width="1.3"/>
<line x1="190.4" y1="358.4" x2="190.4" y2="366.4" stroke="#5aa1c1" stroke-width="1.3"/>
<line x1="219.0" y1="358.4" x2="219.0" y2="366.4" stroke="#5aa1c1" stroke-width="1.3"/>
<g transform="translate(96.65,373.0)"><rect x="0.8" y="0.4" width="19.9" height="14.799999999999999" rx="1" fill="#cbcfd5"/><rect x="0" y="3.6" width="21.5" height="9.2" rx="0.8" fill="#dcdfe4"/><rect x="0" y="3.6" width="6.45" height="9.2" rx="0.8" fill="#e6e8ec"/><rect x="3.44" y="1.2" width="14.19" height="2.2" fill="#babfc7"/><rect x="17.3" y="0.8" width="2.2" height="1.1" fill="#60646c"/><rect x="16.9" y="4.6" width="2.4" height="1.2" fill="#7b7f88"/><rect x="8.06" y="5.7" width="6.45" height="5.7" fill="#aed6ea" stroke="#9cc3d6" stroke-width="0.4"/><rect x="3.66" y="6.4" width="1.7" height="3.4" fill="#e6d49a"/><rect x="16.34" y="9.0" width="4.51" height="1.6" fill="#e0733f"/><rect x="1.6" y="12.6" width="18.3" height="1.0" fill="#bfc3ca"/></g>
<g transform="translate(122.95,373.0)"><rect x="0.8" y="0.4" width="19.9" height="14.799999999999999" rx="1" fill="#cbcfd5"/><rect x="0" y="3.6" width="21.5" height="9.2" rx="0.8" fill="#dcdfe4"/><rect x="0" y="3.6" width="6.45" height="9.2" rx="0.8" fill="#e6e8ec"/><rect x="3.44" y="1.2" width="14.19" height="2.2" fill="#babfc7"/><rect x="17.3" y="0.8" width="2.2" height="1.1" fill="#60646c"/><rect x="16.9" y="4.6" width="2.4" height="1.2" fill="#7b7f88"/><rect x="8.06" y="5.7" width="6.45" height="5.7" fill="#aed6ea" stroke="#9cc3d6" stroke-width="0.4"/><rect x="3.66" y="6.4" width="1.7" height="3.4" fill="#e6d49a"/><rect x="16.34" y="9.0" width="4.51" height="1.6" fill="#e0733f"/><rect x="1.6" y="12.6" width="18.3" height="1.0" fill="#bfc3ca"/></g>
<g transform="translate(150.55,373.0)"><rect x="0.8" y="0.4" width="19.9" height="14.799999999999999" rx="1" fill="#cbcfd5"/><rect x="0" y="3.6" width="21.5" height="9.2" rx="0.8" fill="#dcdfe4"/><rect x="0" y="3.6" width="6.45" height="9.2" rx="0.8" fill="#e6e8ec"/><rect x="3.44" y="1.2" width="14.19" height="2.2" fill="#babfc7"/><rect x="17.3" y="0.8" width="2.2" height="1.1" fill="#60646c"/><rect x="16.9" y="4.6" width="2.4" height="1.2" fill="#7b7f88"/><rect x="8.06" y="5.7" width="6.45" height="5.7" fill="#aed6ea" stroke="#9cc3d6" stroke-width="0.4"/><rect x="3.66" y="6.4" width="1.7" height="3.4" fill="#e6d49a"/><rect x="16.34" y="9.0" width="4.51" height="1.6" fill="#e0733f"/><rect x="1.6" y="12.6" width="18.3" height="1.0" fill="#bfc3ca"/></g>
<g transform="translate(179.25,373.0)"><rect x="0.8" y="0.4" width="19.9" height="14.799999999999999" rx="1" fill="#cbcfd5"/><rect x="0" y="3.6" width="21.5" height="9.2" rx="0.8" fill="#dcdfe4"/><rect x="0" y="3.6" width="6.45" height="9.2" rx="0.8" fill="#e6e8ec"/><rect x="3.44" y="1.2" width="14.19" height="2.2" fill="#babfc7"/><rect x="17.3" y="0.8" width="2.2" height="1.1" fill="#60646c"/><rect x="16.9" y="4.6" width="2.4" height="1.2" fill="#7b7f88"/><rect x="8.06" y="5.7" width="6.45" height="5.7" fill="#aed6ea" stroke="#9cc3d6" stroke-width="0.4"/><rect x="3.66" y="6.4" width="1.7" height="3.4" fill="#e6d49a"/><rect x="16.34" y="9.0" width="4.51" height="1.6" fill="#e0733f"/><rect x="1.6" y="12.6" width="18.3" height="1.0" fill="#bfc3ca"/></g>
<g transform="translate(207.95,373.0)"><rect x="0.8" y="0.4" width="19.9" height="14.799999999999999" rx="1" fill="#cbcfd5"/><rect x="0" y="3.6" width="21.5" height="9.2" rx="0.8" fill="#dcdfe4"/><rect x="0" y="3.6" width="6.45" height="9.2" rx="0.8" fill="#e6e8ec"/><rect x="3.44" y="1.2" width="14.19" height="2.2" fill="#babfc7"/><rect x="17.3" y="0.8" width="2.2" height="1.1" fill="#60646c"/><rect x="16.9" y="4.6" width="2.4" height="1.2" fill="#7b7f88"/><rect x="8.06" y="5.7" width="6.45" height="5.7" fill="#aed6ea" stroke="#9cc3d6" stroke-width="0.4"/><rect x="3.66" y="6.4" width="1.7" height="3.4" fill="#e6d49a"/><rect x="16.34" y="9.0" width="4.51" height="1.6" fill="#e0733f"/><rect x="1.6" y="12.6" width="18.3" height="1.0" fill="#bfc3ca"/></g>
<line x1="105.6" y1="394.2" x2="105.6" y2="414.6" stroke="#9fd2e2" stroke-width="0.9" stroke-dasharray="1.2 1.4"/>
<line x1="133.6" y1="394.2" x2="133.6" y2="414.6" stroke="#9fd2e2" stroke-width="0.9" stroke-dasharray="1.2 1.4"/>
<line x1="162.2" y1="394.2" x2="162.2" y2="414.6" stroke="#9fd2e2" stroke-width="0.9" stroke-dasharray="1.2 1.4"/>
<line x1="190.3" y1="394.2" x2="190.3" y2="414.6" stroke="#9fd2e2" stroke-width="0.9" stroke-dasharray="1.2 1.4"/>
<line x1="219.4" y1="394.2" x2="219.4" y2="414.6" stroke="#9fd2e2" stroke-width="0.9" stroke-dasharray="1.2 1.4"/>
<g><polygon points="94.7,430 100.6,428.4 102.4,433.4 96.2,435.8" fill="#cfd3dc"/><polygon points="96.2,435.8 102.4,433.4 102.4,434.6 96.2,436.8" fill="#aeb3bf"/><polygon points="113.4,431.4 119.2,429.8 119.8,434.6 114.6,436.6" fill="#cfd3dc"/><polygon points="97.6,426.2 103.2,425.2 103.6,430.6 98,431.4" fill="#7d6a4c"/><polygon points="104.4,423.3 117.4,426.2 119,430.2 117.4,434.4 104.8,432.8" fill="#8d7757"/><polygon points="104.4,423.3 117.4,426.2 118.1,427.9 104.6,425.7" fill="#a8916f"/><polygon points="104.8,431 117.9,433.1 117.4,434.4 104.8,432.8" fill="#75623f"/><ellipse cx="104.7" cy="427.8" rx="1.7" ry="5.9" fill="#6f5b3f" transform="rotate(-6 104.7 427.8)"/></g>
<g><polygon points="131.4,422.4 135.6,422.4 138.8,436.4 127.6,436.4" fill="#9fb2c8"/><polygon points="132.6,424 134.6,424 136,436 131,436" fill="#cdbb9f"/><rect x="132.6" y="420.4" width="2" height="2.4" fill="#6f8db3"/><ellipse cx="133.2" cy="437" rx="6" ry="1.7" fill="#7fa0c4"/><rect x="127" y="431.4" width="2.2" height="2.4" fill="#6b95c8"/></g>
<line x1="125.1" y1="440.4" x2="141.3" y2="440.4" stroke="#9a9a9a" stroke-width="0.7"/>
<g><polygon points="149.2,434.4 154.6,433.6 155,438 149.6,438.4" fill="#2b5f9b"/><rect x="150.4" y="432.6" width="0.7" height="1.6" fill="#555"/><path d="M155 435.6 Q160 434.8 165.2 432.4" fill="none" stroke="#d0604a" stroke-width="0.8"/><path d="M155 436.6 Q160 436.2 165.2 434" fill="none" stroke="#e0b070" stroke-width="0.5"/><rect x="165.2" y="422" width="5.6" height="14.8" fill="#c7dbeb"/><rect x="166" y="422" width="0.9" height="14.8" fill="#6e9ccc"/><rect x="169" y="422" width="0.9" height="14.8" fill="#6e9ccc"/><g fill="#8fb3da"><rect x="165.2" y="424.5" width="5.6" height="0.6"/><rect x="165.2" y="427.5" width="5.6" height="0.6"/><rect x="165.2" y="430.5" width="5.6" height="0.6"/><rect x="165.2" y="433.5" width="5.6" height="0.6"/></g><rect x="171.4" y="429.4" width="3.2" height="6.8" rx="0.8" fill="#d9d9d9"/></g>
<g><polygon points="182.8,421.6 202.8,423.6 200,431 186.6,431" fill="#5e5b40"/><polygon points="185,422.6 200.6,424.2 198.4,429 187.6,429" fill="#a5a081"/><polygon points="193.4,423.4 200.6,424.2 198.4,429 194.2,429" fill="#7d7a5c"/><polygon points="184.6,430 201.4,430 202.6,436 186,438.6" fill="#4c4a35"/><ellipse cx="181.6" cy="432.4" rx="3.4" ry="3.6" fill="#3b392b"/><rect x="180" y="434" width="8" height="4.4" fill="#45432f"/></g>
<g><polygon points="210,422.4 226.8,421.4 226.4,424 210.4,425" fill="#3b97dc"/><polygon points="210.4,425 215.4,424.8 214.4,436 212,436" fill="#2f8fd6"/><polygon points="216,424.6 225.6,424 224,432 221.4,438.2 218.6,438.2 216.4,432" fill="#2b86cf"/><polygon points="220.6,424.4 225.6,424 224,432 221.4,438.2 220.6,438.2" fill="#2272b6"/><rect x="209.4" y="426" width="1.6" height="7" fill="#3b97dc"/><circle cx="216.6" cy="429.4" r="0.9" fill="#d8323c"/><rect x="224.2" y="425" width="2.4" height="6" fill="#3b97dc"/></g>
<text x="139.0" y="450.6" font-size="7.1" fill="#2a2a2a" font-weight="700" font-family='"Liberation Serif","Noto Serif CJK SC",serif' text-anchor="middle" >涂布机</text>
<text x="167.6" y="450.6" font-size="7.1" fill="#2a2a2a" font-weight="700" font-family='"Liberation Serif","Noto Serif CJK SC",serif' text-anchor="middle" >搅拌机</text>
<text x="196.2" y="450.6" font-size="7.1" fill="#2a2a2a" font-weight="700" font-family='"Liberation Serif","Noto Serif CJK SC",serif' text-anchor="middle" >叠片机</text>
<rect x="127" y="458" width="68.30000000000001" height="16.100000000000023" rx="8.050000000000011" fill="url(#pill)" stroke="#a3cbe0" stroke-width="0.9"/>
<text x="161.15" y="469.398" font-size="9.3" fill="#111" font-weight="500" font-family='"Liberation Sans","Noto Sans CJK SC",sans-serif' text-anchor="middle" textLength="57" lengthAdjust="spacing">直接生产用能</text>
<path d="M269.2 464.6 H250.6 V344.5 H355.2 V464.6 H337.2" fill="none" stroke="#adadad" stroke-width="0.8" stroke-dasharray="4 2.65"/>
<line x1="304.5" y1="325.5" x2="304.5" y2="366.4" stroke="#5aa1c1" stroke-width="1.3"/>
<line x1="267.35" y1="358.4" x2="340.15" y2="358.4" stroke="#5aa1c1" stroke-width="1.3"/>
<line x1="268.0" y1="358.4" x2="268.0" y2="366.4" stroke="#5aa1c1" stroke-width="1.3"/>
<line x1="339.5" y1="358.4" x2="339.5" y2="366.4" stroke="#5aa1c1" stroke-width="1.3"/>
<g transform="translate(257.20,373.0)"><rect x="0.8" y="0.4" width="19.0" height="14.799999999999999" rx="1" fill="#cbcfd5"/><rect x="0" y="3.6" width="20.6" height="9.2" rx="0.8" fill="#dcdfe4"/><rect x="0" y="3.6" width="6.18" height="9.2" rx="0.8" fill="#e6e8ec"/><rect x="3.30" y="1.2" width="13.60" height="2.2" fill="#babfc7"/><rect x="16.400000000000002" y="0.8" width="2.2" height="1.1" fill="#60646c"/><rect x="16.0" y="4.6" width="2.4" height="1.2" fill="#7b7f88"/><rect x="7.73" y="5.7" width="6.18" height="5.7" fill="#aed6ea" stroke="#9cc3d6" stroke-width="0.4"/><rect x="3.50" y="6.4" width="1.7" height="3.4" fill="#e6d49a"/><rect x="15.66" y="9.0" width="4.33" height="1.6" fill="#e0733f"/><rect x="1.6" y="12.6" width="17.400000000000002" height="1.0" fill="#bfc3ca"/></g>
<g transform="translate(293.50,373.0)"><rect x="0.8" y="0.4" width="19.0" height="14.799999999999999" rx="1" fill="#cbcfd5"/><rect x="0" y="3.6" width="20.6" height="9.2" rx="0.8" fill="#dcdfe4"/><rect x="0" y="3.6" width="6.18" height="9.2" rx="0.8" fill="#e6e8ec"/><rect x="3.30" y="1.2" width="13.60" height="2.2" fill="#babfc7"/><rect x="16.400000000000002" y="0.8" width="2.2" height="1.1" fill="#60646c"/><rect x="16.0" y="4.6" width="2.4" height="1.2" fill="#7b7f88"/><rect x="7.73" y="5.7" width="6.18" height="5.7" fill="#aed6ea" stroke="#9cc3d6" stroke-width="0.4"/><rect x="3.50" y="6.4" width="1.7" height="3.4" fill="#e6d49a"/><rect x="15.66" y="9.0" width="4.33" height="1.6" fill="#e0733f"/><rect x="1.6" y="12.6" width="17.400000000000002" height="1.0" fill="#bfc3ca"/></g>
<g transform="translate(327.40,373.0)"><rect x="0.8" y="0.4" width="19.0" height="14.799999999999999" rx="1" fill="#cbcfd5"/><rect x="0" y="3.6" width="20.6" height="9.2" rx="0.8" fill="#dcdfe4"/><rect x="0" y="3.6" width="6.18" height="9.2" rx="0.8" fill="#e6e8ec"/><rect x="3.30" y="1.2" width="13.60" height="2.2" fill="#babfc7"/><rect x="16.400000000000002" y="0.8" width="2.2" height="1.1" fill="#60646c"/><rect x="16.0" y="4.6" width="2.4" height="1.2" fill="#7b7f88"/><rect x="7.73" y="5.7" width="6.18" height="5.7" fill="#aed6ea" stroke="#9cc3d6" stroke-width="0.4"/><rect x="3.50" y="6.4" width="1.7" height="3.4" fill="#e6d49a"/><rect x="15.66" y="9.0" width="4.33" height="1.6" fill="#e0733f"/><rect x="1.6" y="12.6" width="17.400000000000002" height="1.0" fill="#bfc3ca"/></g>
<line x1="268.4" y1="394.2" x2="268.4" y2="414.6" stroke="#9fd2e2" stroke-width="0.9" stroke-dasharray="1.2 1.4"/>
<line x1="304.5" y1="394.2" x2="304.5" y2="414.6" stroke="#9fd2e2" stroke-width="0.9" stroke-dasharray="1.2 1.4"/>
<line x1="338.6" y1="394.2" x2="338.6" y2="414.6" stroke="#9fd2e2" stroke-width="0.9" stroke-dasharray="1.2 1.4"/>
<g><polygon points="259.3,433.4 266,431 278.3,433.6 271.4,437.2" fill="#8c8c8c"/><polygon points="259.3,433.4 271.4,437.2 271.4,438 259.3,434.2" fill="#6f6f6f"/><polygon points="262.2,423.4 270.4,425 270.4,434.6 262.2,432" fill="#2688b3"/><polygon points="270.4,425 275.7,422.6 275.7,431.6 270.4,434.6" fill="#1f769d"/><polygon points="262.2,423.4 267.6,421 275.7,422.6 270.4,425" fill="#44a3c8"/></g>
<g><ellipse cx="300.4" cy="430" rx="6.4" ry="5" fill="#1f86c8"/><rect x="299" y="425.4" width="10" height="7" fill="#2590d2"/><rect x="306.4" y="423.4" width="8.6" height="6.6" rx="1" fill="#30343a"/><rect x="308" y="424.2" width="1" height="5.2" fill="#565b63"/><rect x="310.4" y="424.2" width="1" height="5.2" fill="#565b63"/><rect x="312.8" y="424.2" width="1" height="5.2" fill="#565b63"/><rect x="301" y="423" width="3" height="3" fill="#2a7fc0"/><polygon points="297,434 306,434 307.4,436 296,436" fill="#1a6faa"/><ellipse cx="296.4" cy="429.6" rx="2" ry="3.2" fill="#4aa6e0"/></g>
<g><rect x="329.6" y="424" width="18" height="12" fill="#3d6650"/><rect x="329.2" y="422.4" width="7" height="3.4" fill="#274233"/><rect x="338" y="422.8" width="9.6" height="2.6" fill="#8d918d"/><rect x="331" y="428" width="5" height="6" fill="#9aa09a"/><rect x="337.6" y="427" width="6" height="3" fill="#20251f"/><rect x="343.6" y="429" width="4.6" height="6.6" fill="#1e211e"/><rect x="337" y="431.6" width="5.6" height="3.6" fill="#6f8f7a"/><rect x="329.6" y="435.4" width="19" height="1.2" fill="#55595a"/></g>
<text x="267.7" y="450.4" font-size="7.1" fill="#1a1a1a" font-weight="500" font-family='"Liberation Sans","Noto Sans CJK SC",sans-serif' text-anchor="middle" >空压机</text>
<text x="303.8" y="450.4" font-size="7.0" fill="#1a1a1a" font-weight="500" font-family='"Liberation Sans","Noto Sans CJK SC",sans-serif' text-anchor="middle" >循环水泵</text>
<text x="338.8" y="450.4" font-size="7.1" fill="#1a1a1a" font-weight="500" font-family='"Liberation Sans","Noto Sans CJK SC",sans-serif' text-anchor="middle" >制冷主机</text>
<rect x="269.8" y="458" width="66.80000000000001" height="16.100000000000023" rx="8.050000000000011" fill="url(#pill)" stroke="#a3cbe0" stroke-width="0.9"/>
<text x="303.20000000000005" y="469.398" font-size="9.3" fill="#111" font-weight="500" font-family='"Liberation Sans","Noto Sans CJK SC",sans-serif' text-anchor="middle" textLength="57" lengthAdjust="spacing">辅助生产用能</text>
<path d="M399 464.6 H363.6 V344.5 H504.4 V464.6 H469" fill="none" stroke="#adadad" stroke-width="0.8" stroke-dasharray="4 2.65"/>
<line x1="433.6" y1="317" x2="433.6" y2="358.4" stroke="#5aa1c1" stroke-width="1.3"/>
<line x1="382.05" y1="358.4" x2="485.15" y2="358.4" stroke="#5aa1c1" stroke-width="1.3"/>
<line x1="382.7" y1="358.4" x2="382.7" y2="366.4" stroke="#5aa1c1" stroke-width="1.3"/>
<line x1="415.5" y1="358.4" x2="415.5" y2="366.4" stroke="#5aa1c1" stroke-width="1.3"/>
<line x1="451.4" y1="358.4" x2="451.4" y2="366.4" stroke="#5aa1c1" stroke-width="1.3"/>
<line x1="484.5" y1="358.4" x2="484.5" y2="366.4" stroke="#5aa1c1" stroke-width="1.3"/>
<g transform="translate(371.90,373.0)"><rect x="0.8" y="0.4" width="19.0" height="14.799999999999999" rx="1" fill="#cbcfd5"/><rect x="0" y="3.6" width="20.6" height="9.2" rx="0.8" fill="#dcdfe4"/><rect x="0" y="3.6" width="6.18" height="9.2" rx="0.8" fill="#e6e8ec"/><rect x="3.30" y="1.2" width="13.60" height="2.2" fill="#babfc7"/><rect x="16.400000000000002" y="0.8" width="2.2" height="1.1" fill="#60646c"/><rect x="16.0" y="4.6" width="2.4" height="1.2" fill="#7b7f88"/><rect x="7.73" y="5.7" width="6.18" height="5.7" fill="#aed6ea" stroke="#9cc3d6" stroke-width="0.4"/><rect x="3.50" y="6.4" width="1.7" height="3.4" fill="#e6d49a"/><rect x="15.66" y="9.0" width="4.33" height="1.6" fill="#e0733f"/><rect x="1.6" y="12.6" width="17.400000000000002" height="1.0" fill="#bfc3ca"/></g>
<g transform="translate(405.20,373.0)"><rect x="0.8" y="0.4" width="19.0" height="14.799999999999999" rx="1" fill="#cbcfd5"/><rect x="0" y="3.6" width="20.6" height="9.2" rx="0.8" fill="#dcdfe4"/><rect x="0" y="3.6" width="6.18" height="9.2" rx="0.8" fill="#e6e8ec"/><rect x="3.30" y="1.2" width="13.60" height="2.2" fill="#babfc7"/><rect x="16.400000000000002" y="0.8" width="2.2" height="1.1" fill="#60646c"/><rect x="16.0" y="4.6" width="2.4" height="1.2" fill="#7b7f88"/><rect x="7.73" y="5.7" width="6.18" height="5.7" fill="#aed6ea" stroke="#9cc3d6" stroke-width="0.4"/><rect x="3.50" y="6.4" width="1.7" height="3.4" fill="#e6d49a"/><rect x="15.66" y="9.0" width="4.33" height="1.6" fill="#e0733f"/><rect x="1.6" y="12.6" width="17.400000000000002" height="1.0" fill="#bfc3ca"/></g>
<g transform="translate(440.10,373.0)"><rect x="0.8" y="0.4" width="19.0" height="14.799999999999999" rx="1" fill="#cbcfd5"/><rect x="0" y="3.6" width="20.6" height="9.2" rx="0.8" fill="#dcdfe4"/><rect x="0" y="3.6" width="6.18" height="9.2" rx="0.8" fill="#e6e8ec"/><rect x="3.30" y="1.2" width="13.60" height="2.2" fill="#babfc7"/><rect x="16.400000000000002" y="0.8" width="2.2" height="1.1" fill="#60646c"/><rect x="16.0" y="4.6" width="2.4" height="1.2" fill="#7b7f88"/><rect x="7.73" y="5.7" width="6.18" height="5.7" fill="#aed6ea" stroke="#9cc3d6" stroke-width="0.4"/><rect x="3.50" y="6.4" width="1.7" height="3.4" fill="#e6d49a"/><rect x="15.66" y="9.0" width="4.33" height="1.6" fill="#e0733f"/><rect x="1.6" y="12.6" width="17.400000000000002" height="1.0" fill="#bfc3ca"/></g>
<g transform="translate(474.60,373.0)"><rect x="0.8" y="0.4" width="19.0" height="14.799999999999999" rx="1" fill="#cbcfd5"/><rect x="0" y="3.6" width="20.6" height="9.2" rx="0.8" fill="#dcdfe4"/><rect x="0" y="3.6" width="6.18" height="9.2" rx="0.8" fill="#e6e8ec"/><rect x="3.30" y="1.2" width="13.60" height="2.2" fill="#babfc7"/><rect x="16.400000000000002" y="0.8" width="2.2" height="1.1" fill="#60646c"/><rect x="16.0" y="4.6" width="2.4" height="1.2" fill="#7b7f88"/><rect x="7.73" y="5.7" width="6.18" height="5.7" fill="#aed6ea" stroke="#9cc3d6" stroke-width="0.4"/><rect x="3.50" y="6.4" width="1.7" height="3.4" fill="#e6d49a"/><rect x="15.66" y="9.0" width="4.33" height="1.6" fill="#e0733f"/><rect x="1.6" y="12.6" width="17.400000000000002" height="1.0" fill="#bfc3ca"/></g>
<line x1="382.7" y1="394.2" x2="382.7" y2="414.6" stroke="#9fd2e2" stroke-width="0.9" stroke-dasharray="1.2 1.4"/>
<line x1="415.5" y1="394.2" x2="415.5" y2="414.6" stroke="#9fd2e2" stroke-width="0.9" stroke-dasharray="1.2 1.4"/>
<line x1="451.4" y1="394.2" x2="451.4" y2="414.6" stroke="#9fd2e2" stroke-width="0.9" stroke-dasharray="1.2 1.4"/>
<line x1="484.5" y1="394.2" x2="484.5" y2="414.6" stroke="#9fd2e2" stroke-width="0.9" stroke-dasharray="1.2 1.4"/>
<g><rect x="375.2" y="419.5" width="15.2" height="14.7" rx="0.8" fill="#e6e6e6" stroke="#d2d2d2" stroke-width="0.5"/><rect x="376.8" y="421" width="12" height="11.7" fill="#efefef"/><rect x="380.6" y="423.4" width="1" height="1.8" fill="#a8a8a8"/><rect x="383.8" y="423.4" width="1" height="1.8" fill="#a8a8a8"/><rect x="382.2" y="427.4" width="1" height="1.6" fill="#a8a8a8"/><rect x="380.4" y="429.4" width="1" height="1.6" fill="#a8a8a8" transform="rotate(25 380.9 430.2)"/><rect x="384" y="429.4" width="1" height="1.6" fill="#a8a8a8" transform="rotate(-25 384.5 430.2)"/></g>
<g><polygon points="405.6,421.4 417.4,415.8 424,420.8 412,427.4" fill="#1c1c1c"/><polygon points="405.6,421.4 412,427.4 412,428.8 405.6,423" fill="#2c2c2c"/><polygon points="407,421.2 415.6,417.2 416.4,417.9 407.8,422" fill="#c9b23a"/><polygon points="404.3,425.6 412.6,431.9 424,425 420,422.6 412,427.4 407.4,423.4" fill="#c2c2c2"/><polygon points="407.4,426.4 412.6,430.2 420.6,425.2 418.6,424 412,428 408.6,425.4" fill="#9c9c9c"/></g>
<g><rect x="439.5" y="418.5" width="23.4" height="17.7" fill="#e2eaee"/><rect x="439.5" y="430.6" width="23.4" height="5.6" fill="#6b8456"/><polygon points="445,423.6 456.6,421.4 456.6,433 445,433" fill="#eef0f0"/><polygon points="456.6,421.4 459.4,422.6 459.4,433 456.6,433" fill="#c8ced2"/><g fill="#a9b7c0"><rect x="446" y="424.8" width="9.6" height="0.9"/><rect x="446" y="426.8" width="9.6" height="0.9"/><rect x="446" y="428.8" width="9.6" height="0.9"/><rect x="446" y="430.8" width="9.6" height="0.9"/></g><rect x="439.5" y="433.6" width="23.4" height="2.6" fill="#8f9a8a"/><circle cx="442" cy="431.4" r="1.8" fill="#587548"/><circle cx="461" cy="431" r="1.6" fill="#587548"/></g>
<g><rect x="472.7" y="417.9" width="24.1" height="18" fill="#d2ab84"/><rect x="472.7" y="417.9" width="24.1" height="5" fill="#e9dccb"/><polygon points="472.7,430 496.8,427 496.8,435.9 472.7,435.9" fill="#c79a6c"/><rect x="476" y="422.6" width="6" height="4.6" fill="#f1e7d8"/><rect x="484" y="422" width="5" height="4.4" fill="#f4ecdf"/><rect x="491.6" y="420" width="2.4" height="8" fill="#b98c60"/><polygon points="478,429.6 490,428.4 492,430.4 479,432" fill="#ead9c0"/><rect x="472.7" y="420" width="2.2" height="11" fill="#b98c60"/></g>
<text x="381.4" y="450.4" font-size="7.3" fill="#1a1a1a" font-weight="500" font-family='"Liberation Sans","Noto Sans CJK SC",sans-serif' text-anchor="middle" >插座</text>
<text x="414.0" y="450.4" font-size="7.3" fill="#1a1a1a" font-weight="500" font-family='"Liberation Sans","Noto Sans CJK SC",sans-serif' text-anchor="middle" >空调</text>
<text x="450.0" y="450.4" font-size="7.3" fill="#1a1a1a" font-weight="500" font-family='"Liberation Sans","Noto Sans CJK SC",sans-serif' text-anchor="middle" >办公</text>
<text x="485.3" y="450.4" font-size="7.3" fill="#1a1a1a" font-weight="500" font-family='"Liberation Sans","Noto Sans CJK SC",sans-serif' text-anchor="middle" >食堂</text>
<rect x="399.6" y="458" width="68.59999999999997" height="16.100000000000023" rx="8.050000000000011" fill="url(#pill)" stroke="#a3cbe0" stroke-width="0.9"/>
<text x="433.9" y="469.398" font-size="9.3" fill="#111" font-weight="500" font-family='"Liberation Sans","Noto Sans CJK SC",sans-serif' text-anchor="middle" textLength="57" lengthAdjust="spacing">附属生产用能</text>
<path d="M520 464.6 H514.6 V344.5 H631.8 V464.6 H625" fill="none" stroke="#adadad" stroke-width="0.8" stroke-dasharray="4 2.65"/>
<line x1="531.3" y1="325.5" x2="531.3" y2="414.6" stroke="#76aac5" stroke-width="1.3"/>
<line x1="560.7" y1="325.5" x2="560.7" y2="414" stroke="#76aac5" stroke-width="1.3"/>
<line x1="589.5" y1="325.5" x2="589.5" y2="413.6" stroke="#76aac5" stroke-width="1.3"/>
<line x1="618.5" y1="325.5" x2="618.5" y2="414.6" stroke="#76aac5" stroke-width="1.3"/>
<g><rect x="529.2" y="420" width="6.6" height="5.8" rx="1" fill="#25375c"/><circle cx="534" cy="422.8" r="1.6" fill="#8ea0c0"/><rect x="531.4" y="425.6" width="2.4" height="2.6" fill="#2a5fae"/><ellipse cx="532.4" cy="433.4" rx="6.6" ry="5.4" fill="#1e6fc4"/><ellipse cx="528.2" cy="433.6" rx="2.4" ry="4.8" fill="#3f8fe0"/><ellipse cx="528" cy="433.6" rx="1.3" ry="3.2" fill="#d8e4f2"/><ellipse cx="537.4" cy="433.2" rx="1.6" ry="4.8" fill="#15529a"/></g>
<g><rect x="552.8" y="420.2" width="8" height="6" rx="0.6" fill="#8a7460"/><rect x="555.6" y="421.2" width="4.4" height="3.4" fill="#7fae7a"/><rect x="555.6" y="426" width="2.6" height="3" fill="#9c948c"/><rect x="551" y="429" width="11.6" height="6.4" rx="1.4" fill="#c2bcb6"/><rect x="552.4" y="430" width="8.6" height="2" fill="#e1dcd6"/><rect x="551" y="428.4" width="1.6" height="7.6" fill="#9a938c"/><rect x="561" y="428.4" width="1.6" height="7.6" fill="#9a938c"/><rect x="553.6" y="435.4" width="6" height="2.6" fill="#a8a29b"/></g>
<g><rect x="582.2" y="418.6" width="3.8" height="5.4" rx="0.5" fill="#2a5fb0"/><rect x="582.9" y="419.4" width="2.4" height="2" fill="#a8c8ea"/><rect x="583.6" y="424" width="1" height="4" fill="#8c8c8c"/><rect x="578" y="428.6" width="21.6" height="2.6" rx="1.2" fill="#c4c4c6" transform="rotate(-6 588.8 429.9)"/><rect x="580" y="433.6" width="14" height="2.8" rx="1.2" fill="#b5b5b8"/><rect x="583" y="428" width="2.6" height="7.6" fill="#a5a5a8"/><rect x="592.6" y="427.4" width="3.4" height="3.6" fill="#8e8e92"/><rect x="597.6" y="426.6" width="2" height="4.4" fill="#9c9ca0"/></g>
<g><rect x="606.7" y="421.1" width="20.5" height="15.5" fill="#5f97c6"/><rect x="606.7" y="421.1" width="20.5" height="4" fill="#86b3d8"/><g fill="#dbe9f4"><ellipse cx="611" cy="427.4" rx="2.4" ry="0.8"/><ellipse cx="618" cy="430" rx="3" ry="0.9"/><ellipse cx="623.6" cy="426.4" rx="2" ry="0.7"/><ellipse cx="613" cy="433.4" rx="3" ry="0.9"/><ellipse cx="622.4" cy="433.8" rx="2.4" ry="0.8"/></g></g>
<text x="532.4" y="450.4" font-size="7.4" fill="#1a1a1a" font-weight="500" font-family='"Liberation Sans","Noto Sans CJK SC",sans-serif' text-anchor="middle" >蒸汽</text>
<text x="557.0" y="450.4" font-size="7.4" fill="#1a1a1a" font-weight="500" font-family='"Liberation Sans","Noto Sans CJK SC",sans-serif' text-anchor="middle" >气</text>
<text x="586.8" y="450.4" font-size="7.5" fill="#1a1a1a" font-weight="500" font-family='"Liberation Sans","Noto Sans CJK SC",sans-serif' text-anchor="middle" >冷热量表</text>
<text x="616.0" y="450.4" font-size="7.4" fill="#1a1a1a" font-weight="500" font-family='"Liberation Sans","Noto Sans CJK SC",sans-serif' text-anchor="middle" >水</text>
<rect x="520.7" y="458" width="103.5" height="16.100000000000023" rx="8.050000000000011" fill="url(#pill)" stroke="#a3cbe0" stroke-width="0.9"/>
<text x="572.45" y="469.398" font-size="9.3" fill="#111" font-weight="500" font-family='"Liberation Sans","Noto Sans CJK SC",sans-serif' text-anchor="middle" textLength="90.8" lengthAdjust="spacing">水/气/蒸汽/冷热量表</text>
<path d="M655 464.6 H644.1 V344.5 H713.3 V464.6 H705.5" fill="none" stroke="#b2b6ba" stroke-width="0.8" stroke-dasharray="2.2 1.7"/>
<line x1="661.7" y1="325.5" x2="661.7" y2="366.2" stroke="#76aac5" stroke-width="1.3"/>
<line x1="694.3" y1="325.5" x2="694.3" y2="366.0" stroke="#76aac5" stroke-width="1.3"/>
<g><ellipse cx="662.8" cy="380.6" rx="5.2" ry="3.3" fill="#211f78"/><rect x="656.6" y="378" width="2.6" height="2.6" fill="#2a2790" transform="rotate(12 657.9 379.3)"/><rect x="666.6" y="380" width="2.6" height="2.6" fill="#2a2790" transform="rotate(12 667.9 381.3)"/><rect x="656.3" y="378.2" width="0.9" height="2" fill="#b03a3a" transform="rotate(12 656.7 379.2)"/><rect x="668.6" y="380.6" width="0.9" height="2" fill="#b03a3a" transform="rotate(12 669 381.6)"/><ellipse cx="662.3" cy="377.6" rx="3.6" ry="2.3" fill="#d4ac3c"/><ellipse cx="662.3" cy="377.2" rx="2.7" ry="1.6" fill="#cfd6e4"/><ellipse cx="665.9" cy="373.6" rx="1.9" ry="3.1" fill="#2b2fb4" transform="rotate(32 665.9 373.6)"/></g>
<g><rect x="687.5" y="370.6" width="13.4" height="14.9" rx="0.8" fill="#aab0b8"/><rect x="687.5" y="372.6" width="8.8" height="12.6" fill="#ccd1d7"/><rect x="688" y="370.6" width="12.4" height="2" fill="#9aa1a9"/><rect x="688.5" y="375.8" width="5.6" height="4.6" fill="#a9cfe6"/><rect x="688.2" y="381" width="7.2" height="0.9" fill="#d98050"/><g fill="#bcc2c9"><rect x="697" y="373" width="3.4" height="0.8"/><rect x="697" y="375.4" width="3.4" height="0.8"/><rect x="697" y="377.8" width="3.4" height="0.8"/><rect x="697" y="380.2" width="3.4" height="0.8"/><rect x="697" y="382.6" width="3.4" height="0.8"/></g></g>
<path d="M662.9 394.2 V410 H694.2 V394.2" fill="none" stroke="#93c9d8" stroke-width="0.8" stroke-dasharray="1.2 1.3"/>
<line x1="678.4" y1="410" x2="678.4" y2="421" stroke="#93c9d8" stroke-width="0.9" stroke-dasharray="1.2 1.4"/>
<g><rect x="667.8" y="422.1" width="23.4" height="13.8" fill="#dfe8e6"/><rect x="667.8" y="431.6" width="23.4" height="4.3" fill="#7d9a6a"/><rect x="671" y="425.4" width="8" height="8" fill="#c9b8a2"/><rect x="680.6" y="424" width="7" height="9.6" fill="#b9876a"/><rect x="672" y="426.6" width="6" height="0.8" fill="#8f7d68"/><rect x="672" y="429" width="6" height="0.8" fill="#8f7d68"/><rect x="684" y="425" width="1.2" height="8" fill="#efe6da"/></g>
<text x="679.0" y="450.4" font-size="7.3" fill="#1a1a1a" font-weight="500" font-family='"Liberation Sans","Noto Sans CJK SC",sans-serif' text-anchor="middle" >员工宿舍</text>
<rect x="655.6" y="458" width="49.19999999999993" height="16.100000000000023" rx="8.050000000000011" fill="url(#pill)" stroke="#a3cbe0" stroke-width="0.9"/>
<text x="680.2" y="469.398" font-size="9.3" fill="#111" font-weight="500" font-family='"Liberation Sans","Noto Sans CJK SC",sans-serif' text-anchor="middle" textLength="37.2" lengthAdjust="spacing">员工宿舍</text>
<path d="M734 464.6 H723 V344.5 H792.9 V464.6 H784.5" fill="none" stroke="#b2b6ba" stroke-width="0.8" stroke-dasharray="2.2 1.7"/>
<line x1="743.0" y1="325.5" x2="743.0" y2="366" stroke="#76aac5" stroke-width="1.3"/>
<line x1="773.6" y1="325.5" x2="773.6" y2="366" stroke="#76aac5" stroke-width="1.3"/>
<g><rect x="734" y="372.9" width="17.6" height="14.9" rx="1" fill="#393d40"/><rect x="734" y="372.9" width="5.6" height="14.9" rx="1" fill="#2e3134"/><rect x="740.2" y="375.2" width="10.6" height="9.8" fill="#4a4f52"/><rect x="740.9" y="375.9" width="9.4" height="8.4" fill="#aeb8b4"/><rect x="742.6" y="378" width="5.8" height="3.6" fill="#93a7b4"/><rect x="740.6" y="385.6" width="9.8" height="1.2" fill="#25282a"/></g>
<g transform="translate(762.95,373.2)"><rect x="0.8" y="0.4" width="19.5" height="14.0" rx="1" fill="#cbcfd5"/><rect x="0" y="3.6" width="21.1" height="8.4" rx="0.8" fill="#dcdfe4"/><rect x="0" y="3.6" width="6.33" height="8.4" rx="0.8" fill="#e6e8ec"/><rect x="3.38" y="1.2" width="13.93" height="2.2" fill="#babfc7"/><rect x="16.900000000000002" y="0.8" width="2.2" height="1.1" fill="#60646c"/><rect x="16.5" y="4.6" width="2.4" height="1.2" fill="#7b7f88"/><rect x="7.91" y="5.7" width="6.33" height="5.7" fill="#aed6ea" stroke="#9cc3d6" stroke-width="0.4"/><rect x="3.59" y="6.4" width="1.7" height="3.4" fill="#e6d49a"/><rect x="16.04" y="9.0" width="4.43" height="1.6" fill="#e0733f"/><rect x="1.6" y="11.8" width="17.900000000000002" height="1.0" fill="#bfc3ca"/></g>
<path d="M742.9 394.2 V410 H774.5 V394.2" fill="none" stroke="#93c9d8" stroke-width="0.8" stroke-dasharray="1.2 1.3"/>
<line x1="758.6" y1="410" x2="758.6" y2="421" stroke="#93c9d8" stroke-width="0.9" stroke-dasharray="1.2 1.4"/>
<g><rect x="747.3" y="422.1" width="22.2" height="13.8" fill="#8d8878"/><rect x="747.3" y="422.1" width="22.2" height="3.4" fill="#4a4538"/><polygon points="752,425.5 765,425.5 769.5,435.9 747.3,435.9" fill="#d9d6cc"/><rect x="747.3" y="426" width="4" height="8" fill="#5f6a58"/><rect x="765.6" y="426" width="3.9" height="8" fill="#a39c88"/><rect x="756" y="425.5" width="5" height="5" fill="#efeee8"/></g>
<text x="759.8" y="450.4" font-size="7.3" fill="#1a1a1a" font-weight="500" font-family='"Liberation Sans","Noto Sans CJK SC",sans-serif' text-anchor="middle" >变电所</text>
<rect x="734.6" y="458" width="49.19999999999993" height="16.100000000000023" rx="8.050000000000011" fill="url(#pill)" stroke="#a3cbe0" stroke-width="0.9"/>
<text x="759.2" y="469.434" font-size="9.4" fill="#111" font-weight="500" font-family='"Liberation Sans","Noto Sans CJK SC",sans-serif' text-anchor="middle" textLength="28.8" lengthAdjust="spacing">变电所</text>
</svg>
</body></html>
